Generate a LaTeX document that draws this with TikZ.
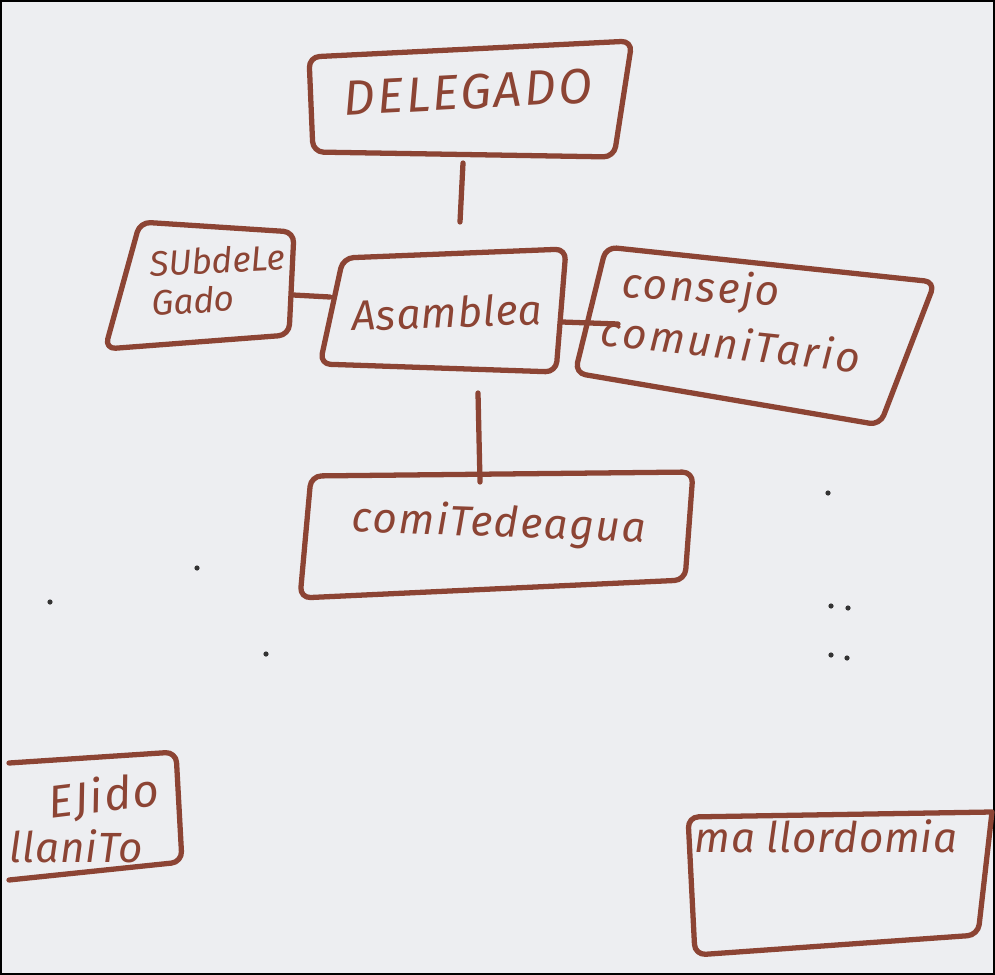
\documentclass[tikz,border=0pt]{standalone}
\usepackage{fontspec}
\setmainfont{Fira Sans}
\definecolor{marker}{RGB}{140,68,52}
\definecolor{paper}{RGB}{237,238,241}
\newcommand{\hw}[2]{\fontsize{#1}{#1}\selectfont\addfontfeature{LetterSpace=#2}}
\tikzset{
  mk/.style={draw=marker, line width=1.5pt, line cap=round, line join=round, rounded corners=3pt},
  lbl/.style={text=marker, font=\itshape, inner sep=0pt, anchor=center},
  dotm/.style={fill=black!80, draw=none}
}
\begin{document}
\begin{tikzpicture}[x=0.1mm,y=-0.1mm]
\useasboundingbox (0,0) rectangle (995,975);
\fill[paper] (0,0) rectangle (995,975);
\draw[black,line width=0.8pt] (1,1) rectangle (994,974);

% corner coordinates
\coordinate (d1) at (309,57);  \coordinate (d2) at (632,41);
\coordinate (d3) at (614,157); \coordinate (d4) at (313,152);
\coordinate (s1) at (140,222); \coordinate (s2) at (294,232);
\coordinate (s3) at (289,335); \coordinate (s4) at (105,349);
\coordinate (a1) at (343,258); \coordinate (a2) at (566,249);
\coordinate (a3) at (556,372); \coordinate (a4) at (320,364);
\coordinate (c1) at (606,247); \coordinate (c2) at (935,282);
\coordinate (c3) at (880,425); \coordinate (c4) at (575,373);
\coordinate (w1) at (311,476); \coordinate (w2) at (693,472);
\coordinate (w3) at (685,580); \coordinate (w4) at (300,598);
\coordinate (e0) at (9,763);   \coordinate (e1) at (176,752);
\coordinate (e2) at (182,862); \coordinate (e3) at (9,880);
\coordinate (m1) at (688,817); \coordinate (m2) at (992,812);
\coordinate (m3) at (978,935); \coordinate (m4) at (695,955);

% boxes
\draw[mk] (d1) -- (d2) -- (d3) -- (d4) -- cycle;
\draw[mk] (s1) -- (s2) -- (s3) -- (s4) -- cycle;
\draw[mk] (a1) -- (a2) -- (a3) -- (a4) -- cycle;
\draw[mk] (c1) -- (c2) -- (c3) -- (c4) -- cycle;
\draw[mk] (w1) -- (w2) -- (w3) -- (w4) -- cycle;
\draw[mk] (e0) -- (e1) -- (e2) -- (e3);
\draw[mk] (m2) -- (m1) -- (m4) -- (m3) -- (m2);

% labels
\node[lbl, font=\itshape\hw{14}{5}, rotate=3] (tdel) at (468,92) {DELEGADO};
\node[lbl, font=\itshape\hw{10}{0}, align=left, anchor=west, rotate=3] (tsub) at (150,283) {SUbdeLe\\[1pt]Gado};
\node[lbl, font=\itshape\hw{12}{2}, rotate=2] (tasa) at (447,312) {Asamblea};
\node[lbl, font=\itshape\hw{12}{5}, rotate=-3] (tcon1) at (701,290) {consejo};
\node[lbl, font=\itshape\hw{12}{6}, rotate=-6] (tcon2) at (731,343) {comuniTario};
\node[lbl, font=\itshape\hw{12}{4}, rotate=-2] (tcom) at (499,525) {comiTedeagua};
\node[lbl, font=\itshape\hw{13}{4}, rotate=7] (teji) at (104,797) {EJido};
\node[lbl, font=\itshape\hw{12}{2}] (tlla) at (76,846) {llaniTo};
\node[lbl, font=\itshape\hw{12}{2}] (tmay) at (826,836) {ma llordomia};

% connectors
\coordinate (p1) at (463,163); \coordinate (p2) at (460,222);
\coordinate (p3) at (293,295); \coordinate (p4) at (330,297);
\coordinate (p5) at (562,322); \coordinate (p6) at (618,324);
\coordinate (p7) at (478,393); \coordinate (p8) at (480,482);
\draw[mk] (p1) -- (p2);
\draw[mk] (p3) -- (p4);
\draw[mk] (p5) -- (p6);
\draw[mk] (p7) -- (p8);

% stray dots
\foreach \x/\y in {197/568, 50/602, 828/493, 831/606, 848/608, 266/654, 831/655, 847/658}
  \fill[dotm] (\x,\y) circle (2.6);
\end{tikzpicture}
\end{document}
